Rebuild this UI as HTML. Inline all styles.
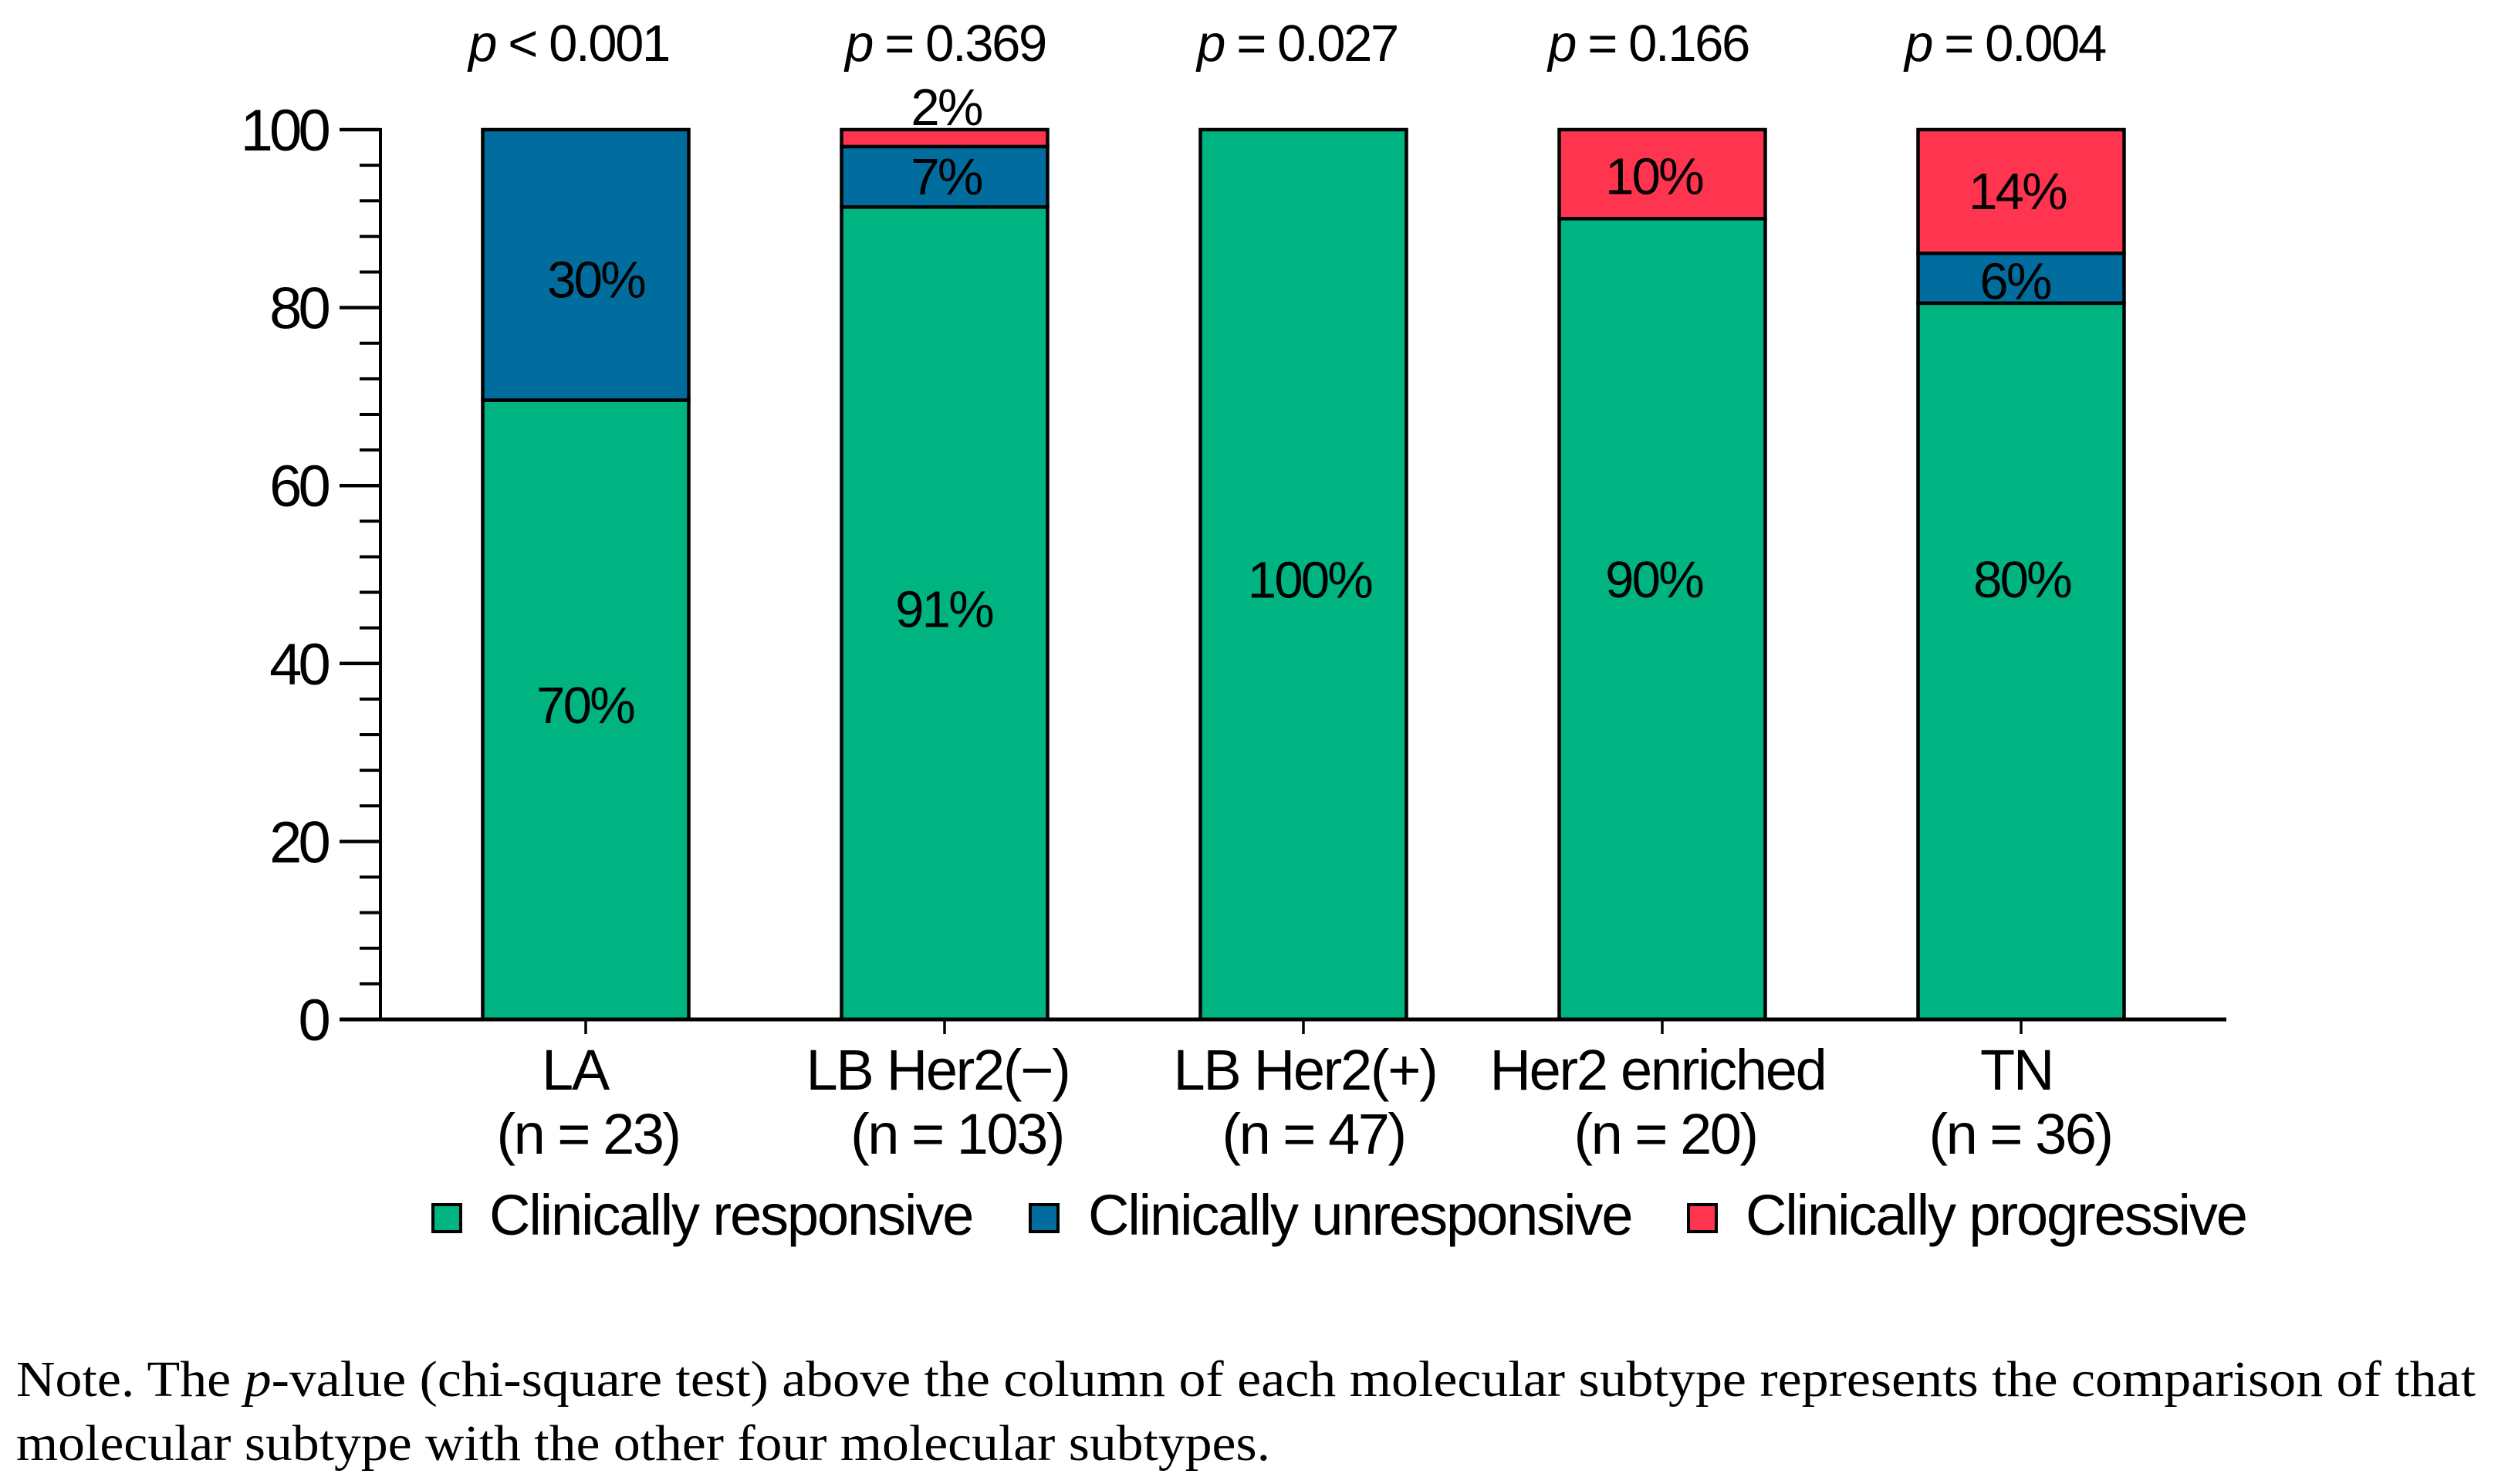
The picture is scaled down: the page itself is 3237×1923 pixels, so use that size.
<!DOCTYPE html>
<html lang="en">
<head>
<meta charset="utf-8">
<title>Clinical response by molecular subtype</title>
<style>
html,body{margin:0;padding:0;background:#fff;width:3237px;height:1923px;overflow:hidden}
svg{display:block}
.sans{font-family:"Liberation Sans",Arial,sans-serif;fill:#000}
.serif{font-family:"Liberation Serif","Times New Roman",serif;fill:#000}
</style>
</head>
<body>
<svg id="chart" xmlns="http://www.w3.org/2000/svg" width="3237" height="1923" viewBox="0 0 3237 1923">
  <rect x="0" y="0" width="3237" height="1923" fill="#fff"/>
  <g id="layer-bars"></g>
  <g id="layer-axes"></g>
  <g id="layer-text"></g>
  <g id="layer-legend"></g>
  <text class="serif" x="21" y="1809" font-size="66" textLength="3187" lengthAdjust="spacingAndGlyphs">Note. The <tspan font-style="italic">p</tspan>-value (chi-square test) above the column of each molecular subtype represents the comparison of that</text>
  <text class="serif" x="21" y="1892" font-size="66" textLength="1625" lengthAdjust="spacingAndGlyphs">molecular subtype with the other four molecular subtypes.</text>
</svg>
<script>
// ---- chart data ----
const categories = ["LA", "LB Her2(\u2212)", "LB Her2(+)", "Her2 enriched", "TN"];
const sampleSizes = ["(n = 23)", "(n = 103)", "(n = 47)", "(n = 20)", "(n = 36)"];
const pValues = ["< 0.001", "= 0.369", "= 0.027", "= 0.166", "= 0.004"];
const responsive = [69.6, 91.3, 100, 90, 80.5];
const unresponsive = [30.4, 6.8, 0, 0, 5.6];
const progressive = [0, 1.9, 0, 10, 13.9];
const responsiveLabels = ["70%", "91%", "100%", "90%", "80%"];
const unresponsiveLabels = ["30%", "7%", "", "", "6%"];
const progressiveLabels = ["", "2%", "", "10%", "14%"];
const yTicks = [0, 20, 40, 60, 80, 100];
const yMax = 100;
const minorStep = 4;

// ---- layout ----
const NS = "http://www.w3.org/2000/svg";
const plot = { y0: 1321, y100: 168, firstBand: 759, bandStep: 465, barWidth: 267, axisX: 493, axisEnd: 2885 };
const yScale = v => plot.y0 + (plot.y100 - plot.y0) * v / yMax;
const xScale = i => plot.firstBand + plot.bandStep * i;

// hand placement of the text relative to its anchor (the original labels are not centred)
const nudges = {
  cat: [-14, -9, 2, -6, -6],
  n: [3, 16, 13, 4, -1],
  p: [-22, 1, -8, -18, -21],
  responsive: [[-1, -7], [-1, -6], [8, 6], [-11, -52], [1, -107]],
  unresponsive: [[13, 18], [2, -1], [0, 0], [0, 0], [-8, 3]],
  progressive: [[0, 0], [2, -41], [0, 0], [-11, 2], [-5, -1]]
};

function make(tag, attrs, parent) {
  const el = document.createElementNS(NS, tag);
  for (const k in attrs) el.setAttribute(k, attrs[k]);
  parent.appendChild(el);
  return el;
}
const layerBars = document.getElementById("layer-bars");
const layerAxes = document.getElementById("layer-axes");
const layerText = document.getElementById("layer-text");
const layerLegend = document.getElementById("layer-legend");

const seriesDefs = [
  { key: "responsive", values: responsive, labels: responsiveLabels, color: "#00B482" },
  { key: "unresponsive", values: unresponsive, labels: unresponsiveLabels, color: "#006D9E" },
  { key: "progressive", values: progressive, labels: progressiveLabels, color: "#FF344F" }
];

// bars and value labels
categories.forEach((cat, i) => {
  let base = 0;
  seriesDefs.forEach(s => {
    const v = s.values[i];
    if (v <= 0) return;
    const top = base + v;
    const rect = make("rect", {
      x: xScale(i) - plot.barWidth / 2,
      y: yScale(top),
      width: plot.barWidth,
      height: yScale(base) - yScale(top),
      fill: s.color,
      stroke: "#000",
      "stroke-width": 4.5
    }, layerBars);
    
    
    const label = s.labels[i];
    if (label) {
      const n = nudges[s.key][i];
      const t = make("text", {
        class: "sans",
        x: xScale(i) + n[0],
        y: (yScale(base) + yScale(top)) / 2 + 24 + n[1],
        "font-size": 67,
        "letter-spacing": "-2.8",
        "text-anchor": "middle"
      }, layerText);
      
      
      t.textContent = label;
    }
    base = top;
  });
});

// y axis
const yAxisLine = make("line", { x1: plot.axisX, x2: plot.axisX, y1: yScale(yMax) - 2, y2: yScale(0), stroke: "#000", "stroke-width": 4 }, layerAxes);


for (let v = 0; v <= yMax; v += minorStep) {
  if (yTicks.includes(v)) continue;
  const minor = make("line", { x1: 466, x2: plot.axisX, y1: yScale(v), y2: yScale(v), stroke: "#000", "stroke-width": 4 }, layerAxes);
  
  
}
yTicks.forEach(v => {
  const major = make("line", { x1: 440, x2: plot.axisX, y1: yScale(v), y2: yScale(v), stroke: "#000", "stroke-width": 4.5 }, layerAxes);
  
  
  const t = make("text", { class: "sans", x: 424, y: yScale(v) + 27, "font-size": 76, "letter-spacing": "-4.8", "text-anchor": "end" }, layerText);
  
  
  t.textContent = String(v);
});

// x axis
const xAxisLine = make("line", { x1: 440, x2: plot.axisEnd, y1: yScale(0), y2: yScale(0), stroke: "#000", "stroke-width": 5 }, layerAxes);



categories.forEach((cat, i) => {
  const tick = make("line", { x1: xScale(i), x2: xScale(i), y1: yScale(0), y2: 1340, stroke: "#000", "stroke-width": 3.5 }, layerAxes);
  
  

  const c = make("text", { class: "sans", x: xScale(i) + nudges.cat[i], y: 1412, "font-size": 74, "letter-spacing": "-2.3", "text-anchor": "middle" }, layerText);
  
  
  c.textContent = cat;

  const n = make("text", { class: "sans", x: xScale(i) + nudges.n[i], y: 1495, "font-size": 74, "letter-spacing": "-2.5", "text-anchor": "middle" }, layerText);
  
  
  n.textContent = sampleSizes[i];

  const p = make("text", { class: "sans", x: xScale(i) + nudges.p[i], y: 79, "font-size": 67, "letter-spacing": "-2.4", "text-anchor": "middle" }, layerText);
  
  
  const pi = make("tspan", { "font-style": "italic" }, p);
  pi.textContent = "p";
  p.appendChild(document.createTextNode(" " + pValues[i]));
});

// legend
const legendItems = ["Clinically responsive", "Clinically unresponsive", "Clinically progressive"];
const legendColors = ["#00B482", "#006D9E", "#FF344F"];
const legendSwatchX = [561, 1335, 2188];
const legendTextX = [634, 1410, 2262];
legendItems.forEach((name, i) => {
  const sw = make("rect", { x: legendSwatchX[i], y: 1561, width: 36, height: 35, fill: legendColors[i], stroke: "#000", "stroke-width": 4 }, layerLegend);
  
  
  const t = make("text", { class: "sans", x: legendTextX[i], y: 1600, "font-size": 74, "letter-spacing": "-2.1" }, layerLegend);
  
  
  t.textContent = name;
});
</script>
</body>
</html>
